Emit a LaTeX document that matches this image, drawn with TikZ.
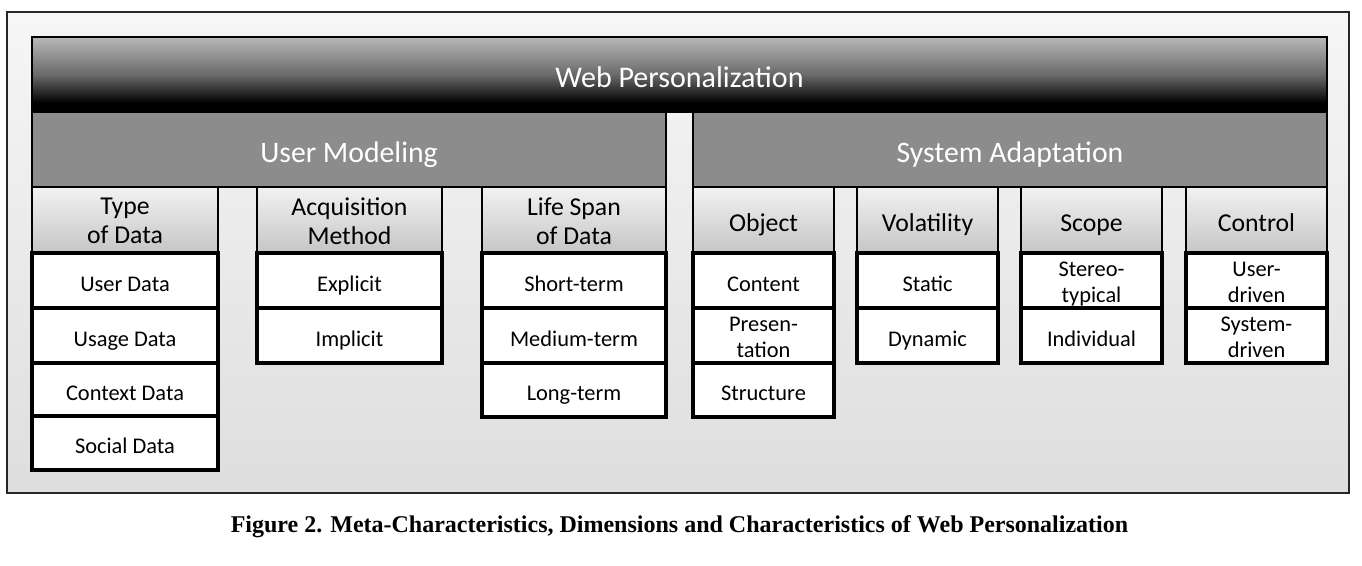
\documentclass[tikz,border=0pt]{standalone}
\usepackage{fontspec}
\setmainfont{Carlito}
\newfontfamily\capfont{Liberation Serif}

\definecolor{framebgtop}{HTML}{F6F6F6}
\definecolor{framebgbot}{HTML}{DEDEDE}
\definecolor{bargray}{HTML}{8C8C8C}
\definecolor{headtop}{HTML}{F2F2F2}
\definecolor{headbot}{HTML}{C6C6C6}
\definecolor{bannertop}{HTML}{B8B8B8}
\definecolor{bannermid}{HTML}{6A6A6A}

% black at the foot, fading to light gray at the head
\pgfdeclareverticalshading{bannershade}{100bp}{color(0bp)=(black); color(31bp)=(black); color(50bp)=(bannermid); color(75bp)=(bannertop); color(100bp)=(bannertop)}

% invisible rule that gives every label the same height and depth
\newcommand\labelrule{\rule[-0.2em]{0pt}{1em}}

\tikzset{
  shell/.style={inner sep=0pt, outer sep=0pt},
  words/.style={inner sep=0pt, outer sep=0pt, align=center,
    execute at begin node=\labelrule, execute at end node=\labelrule},
  framebox/.style={shell, draw=black!85, line width=0.9pt,
    top color=framebgtop, bottom color=framebgbot},
  bannerbox/.style={shell, draw=black, line width=0.8pt, shading=bannershade},
  bannertxt/.style={words, text=white, font=\fontsize{22.5}{27}\selectfont},
  barbox/.style={shell, draw=black, line width=1.1pt, fill=bargray},
  bartxt/.style={words, text=white, font=\fontsize{22.3}{27}\selectfont},
  headbox/.style={shell, draw=black, line width=1.1pt, top color=headtop, bottom color=headbot},
  headtxt/.style={words, font=\fontsize{19.3}{21.5}\selectfont},
  databox/.style={shell, draw=black, line width=2.6pt, fill=white},
  datatxt/.style={words, font=\fontsize{16.8}{19.5}\selectfont},
  captiontext/.style={inner sep=0pt, font=\capfont\bfseries\fontsize{18}{21}\selectfont}
}

% a box spanning two pixel corners, with its label: name, x1, y1, x2, y2, kind, text
\newcommand\cellbox[7]{%
  \node[#6box, minimum width={(#4-#2)*0.75pt}, minimum height={(#5-#3)*0.75pt}]
    (#1) at ({(#2+#4)/2},{(#3+#5)/2}) {};
  \node[#6txt] (#1-t) at ({(#2+#4)/2},{(#3+#5)/2+4}) {#7};}

\begin{document}
\begin{tikzpicture}[x=0.75pt,y=-0.75pt]
\useasboundingbox (0,0) rectangle (1362,566);

% outer panel
\node[framebox, minimum width={1342*0.75pt}, minimum height={481*0.75pt}] (panel) at (678,252.5) {};

% top level
\cellbox{web}{32}{37}{1327}{112}{banner}{Web Personalization}

% meta-characteristics
\cellbox{um}{32}{112}{666}{187}{bar}{User Modeling}
\cellbox{sa}{693}{112}{1327}{187}{bar}{System Adaptation}

% dimensions
\cellbox{tod}{32}{187}{218}{252}{head}{Type\\of Data}
\cellbox{acq}{257}{187}{442}{252}{head}{Acquisition\\Method}
\cellbox{lsd}{482}{187}{666}{252}{head}{Life Span\\of Data}
\cellbox{obj}{693}{187}{834}{252}{head}{Object}
\cellbox{vol}{857}{187}{998}{252}{head}{Volatility}
\cellbox{sco}{1021}{187}{1162}{252}{head}{Scope}
\cellbox{con}{1186}{187}{1327}{252}{head}{Control}

% characteristics: Type of Data
\cellbox{ud}{32}{253}{218}{308}{data}{User Data}
\cellbox{usd}{32}{308}{218}{363}{data}{Usage Data}
\cellbox{cd}{32}{363}{218}{416}{data}{Context Data}
\cellbox{sd}{32}{416}{218}{470}{data}{Social Data}

% Acquisition Method
\cellbox{exp}{257}{253}{442}{308}{data}{Explicit}
\cellbox{imp}{257}{308}{442}{363}{data}{Implicit}

% Life Span of Data
\cellbox{st}{482}{253}{666}{308}{data}{Short-term}
\cellbox{mt}{482}{308}{666}{363}{data}{Medium-term}
\cellbox{lt}{482}{363}{666}{417}{data}{Long-term}

% Object
\cellbox{cnt}{693}{253}{834}{308}{data}{Content}
\cellbox{pre}{693}{308}{834}{363}{data}{Presen-\\tation}
\cellbox{str}{693}{363}{834}{417}{data}{Structure}

% Volatility
\cellbox{sta}{857}{253}{998}{308}{data}{Static}
\cellbox{dyn}{857}{308}{998}{363}{data}{Dynamic}

% Scope
\cellbox{ste}{1021}{253}{1162}{308}{data}{Stereo-\\typical}
\cellbox{ind}{1021}{308}{1162}{363}{data}{Individual}

% Control
\cellbox{usr}{1186}{253}{1327}{308}{data}{User-\\driven}
\cellbox{sys}{1186}{308}{1327}{363}{data}{System-\\driven}

% caption
\node[captiontext] (cap) at (679.5,527) {Figure 2. Meta-Characteristics, Dimensions and Characteristics of Web Personalization};
\end{tikzpicture}
\end{document}
